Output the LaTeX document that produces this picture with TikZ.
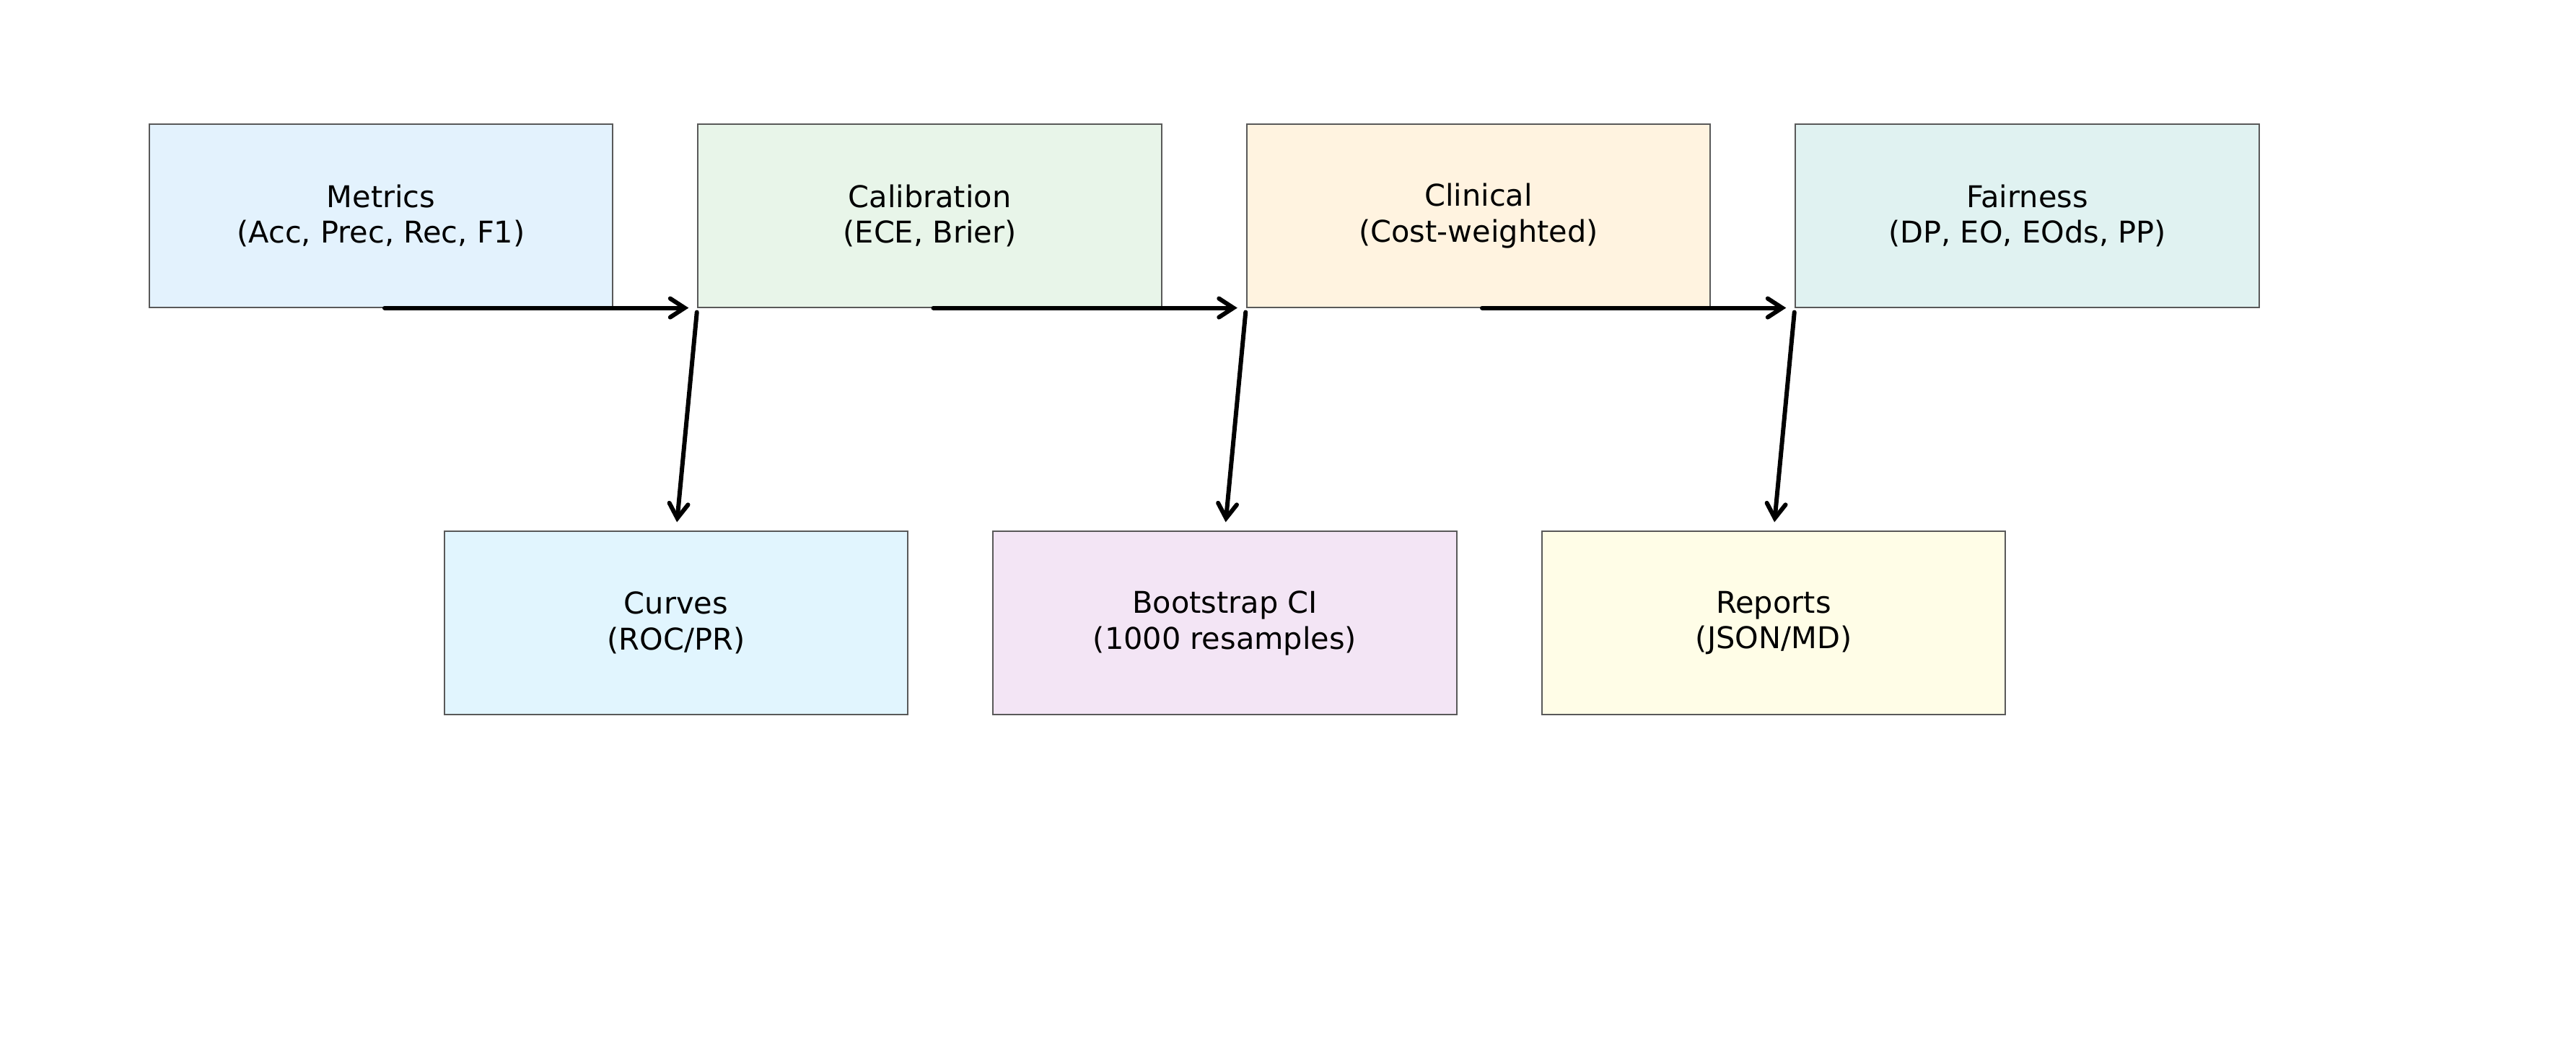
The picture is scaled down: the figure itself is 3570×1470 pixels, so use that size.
\documentclass[tikz,border=0pt]{standalone}
\usepackage{fontspec}
\setmainfont{DejaVu Sans}
\usetikzlibrary{arrows.meta}
\definecolor{cMetrics}{HTML}{E3F2FD}
\definecolor{cCalib}{HTML}{E8F5E9}
\definecolor{cClin}{HTML}{FFF3E0}
\definecolor{cFair}{HTML}{E0F2F1}
\definecolor{cCurves}{HTML}{E1F5FE}
\definecolor{cBoot}{HTML}{F3E5F5}
\definecolor{cRep}{HTML}{FFFDE7}
\tikzset{
  box/.style={draw=black!65, line width=0.2mm, minimum width=6.42cm, minimum height=2.53cm,
    align=center, inner sep=0pt, font=\fontsize{11.8pt}{14.2pt}\selectfont},
  arr/.style={draw=black, line width=0.6mm, line cap=round,
    -{Straight Barb[length=2mm, width=2.6mm, line cap=round]}},
}
\begin{document}
\begin{tikzpicture}[x=0.01cm, y=-0.01cm]
\useasboundingbox (0,0) rectangle (3570,1470);
\node[box, fill=cMetrics] (m) at (528,299) {Metrics\\(Acc, Prec, Rec, F1)};
\node[box, fill=cCalib] (c) at (1288.5,299) {Calibration\\(ECE, Brier)};
\node[box, fill=cClin] (cl) at (2049,299) {Clinical\\(Cost-weighted)};
\node[box, fill=cFair] (f) at (2809.5,299) {Fairness\\(DP, EO, EOds, PP)};
\node[box, fill=cCurves] (cu) at (937,863) {Curves\\(ROC/PR)};
\node[box, fill=cBoot] (b) at (1697.5,863) {Bootstrap CI\\(1000 resamples)};
\node[box, fill=cRep] (r) at (2458,863) {Reports\\(JSON/MD)};
\draw[arr, shorten <=0.5mm, shorten >=1.2mm] (m.south) -- (c.south west);
\draw[arr, shorten <=0.5mm, shorten >=1.2mm] (c.south) -- (cl.south west);
\draw[arr, shorten <=0.5mm, shorten >=1.2mm] (cl.south) -- (f.south west);
\draw[arr, shorten <=0.6mm, shorten >=1.2mm] (c.south west) -- (cu.north);
\draw[arr, shorten <=0.6mm, shorten >=1.2mm] (cl.south west) -- (b.north);
\draw[arr, shorten <=0.6mm, shorten >=1.2mm] (f.south west) -- (r.north);
\end{tikzpicture}
\end{document}
